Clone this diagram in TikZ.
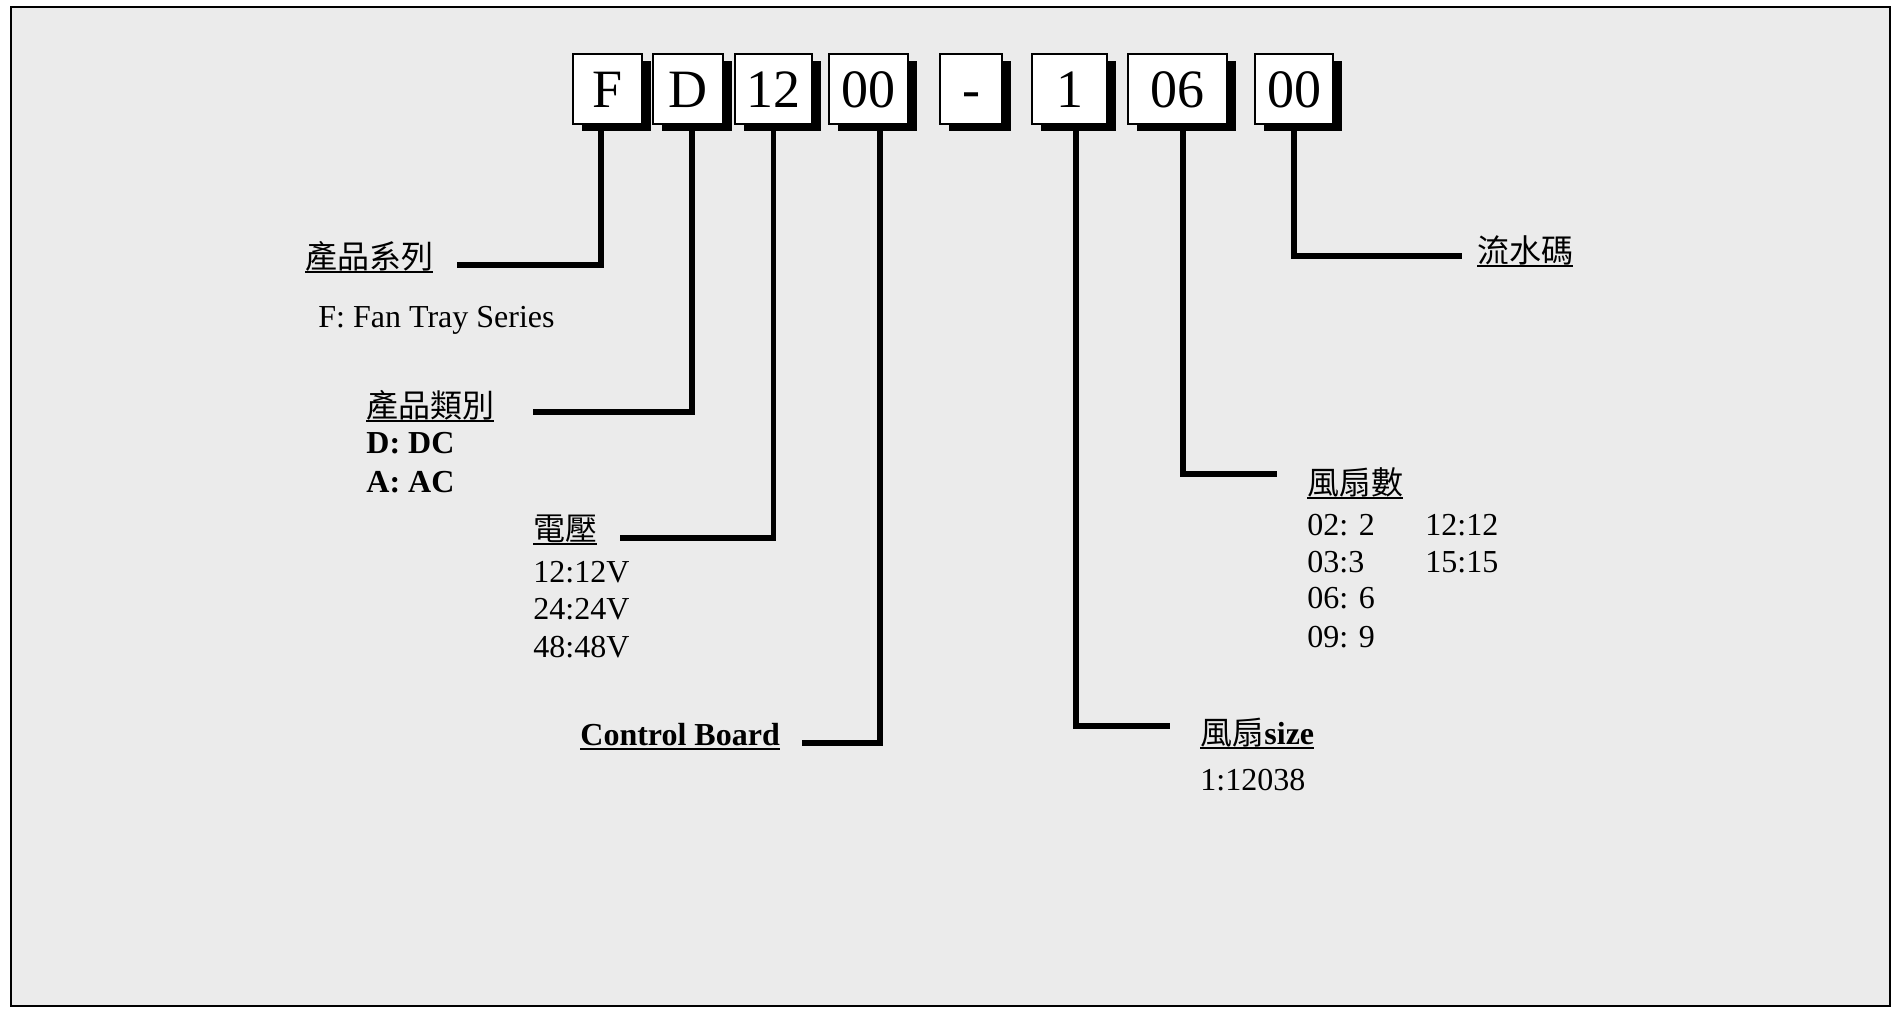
\documentclass[tikz,border=0pt]{standalone}
\usepackage{fontspec}
\setmainfont{Liberation Serif}
\newfontfamily\cjk{Noto Sans CJK TC}
\usetikzlibrary{shadows}
\newcommand\ulx[1]{\setbox0\hbox{#1}\rlap{\rule[-0.17em]{\wd0}{0.065em}}\box0}
\begin{document}
\begin{tikzpicture}[x=0.5pt,y=-0.5pt,
  digitbox/.style={draw, line width=1.2pt, fill=white, minimum height=35pt, inner sep=0pt,
    text height=19pt, text depth=0pt,
    font=\fontsize{27}{30}\selectfont,
    drop shadow={shadow xshift=4.5pt, shadow yshift=-3.5pt, fill=black, opacity=1}},
  stem/.style={line width=2.6pt},
  lbl/.style={anchor=base west, inner sep=0pt, font=\fontsize{16}{18}\selectfont},
  blbl/.style={lbl, font=\fontsize{16}{18}\selectfont\bfseries},
  cjklbl/.style={lbl, font=\fontsize{16}{18}\selectfont\cjk}]
\useasboundingbox (0,0) rectangle (1895,1011);
\fill[white] (0,0) rectangle (1895,1011);
\draw[line width=1.3pt, fill=black!8] (11,7) rectangle (1890,1006);

% code boxes
\node[digitbox, minimum width=34.5pt] (bF)  at (607.5,89) {F};
\node[digitbox, minimum width=35pt]   (bD)  at (688,89)   {D};
\node[digitbox, minimum width=38.5pt] (bV)  at (773.5,89) {12};
\node[digitbox, minimum width=39.5pt] (bC)  at (868.5,89) {00};
\node[digitbox, minimum width=31pt]   (bH)  at (971,89)   {-};
\node[digitbox, minimum width=37.5pt] (bS)  at (1069.5,89){1};
\node[digitbox, minimum width=49.5pt] (bN)  at (1177.5,89){06};
\node[digitbox, minimum width=39pt]   (bW)  at (1294,89)  {00};

% labels
\node[cjklbl] (lF) at (305,268) {\ulx{產品系列}};
\node[lbl] (lFd) at (318,327) {F: Fan Tray Series};
\node[cjklbl] (lD) at (366,417) {\ulx{產品類別}};
\node[blbl] (lDd) at (366,453) {D: DC};
\node[blbl] (lDa) at (366,492) {A: AC};
\node[cjklbl] (lV) at (533,540) {\ulx{電壓}};
\node[lbl] (lV1) at (533,582) {12:12V};
\node[lbl] (lV2) at (533,619) {24:24V};
\node[lbl] (lV3) at (533,657) {48:48V};
\node[blbl] (lC) at (580,745) {\ulx{Control Board}};
\node[lbl] (lS) at (1200,744) {\ulx{{\cjk 風扇}\textbf{size}}};
\node[lbl] (lSd) at (1200,790) {1:12038};
\node[cjklbl] (lN) at (1307,494) {\ulx{風扇數}};
\node[lbl] (lN1) at (1307,535) {02: 2};
\node[lbl] (lN2) at (1307,572) {03:3};
\node[lbl] (lN3) at (1307,608) {06: 6};
\node[lbl] (lN4) at (1307,647) {09: 9};
\node[lbl] (lN5) at (1425,535) {12:12};
\node[lbl] (lN6) at (1425,572) {15:15};
\node[cjklbl] (lW) at (1477,262) {\ulx{流水碼}};

% connector ends
\coordinate (eF) at (457,265);
\coordinate (eD) at (533,412);
\coordinate (eV) at (620,538);
\coordinate (eC) at (802,743);
\coordinate (eS) at (1170,726);
\coordinate (eN) at (1277,474);
\coordinate (eW) at (1462,256);

% connectors
\draw[stem] ([xshift=-3.25pt]bF.south) |- (eF);
\draw[stem] ([xshift=2pt]bD.south) |- (eD);
\draw[stem] (bV.south) |- (eV);
\draw[stem] ([xshift=5.75pt]bC.south) |- (eC);
\draw[stem] ([xshift=3.25pt]bS.south) |- (eS);
\draw[stem] ([xshift=2.75pt]bN.south) |- (eN);
\draw[stem] (bW.south) |- (eW);
\end{tikzpicture}
\end{document}
